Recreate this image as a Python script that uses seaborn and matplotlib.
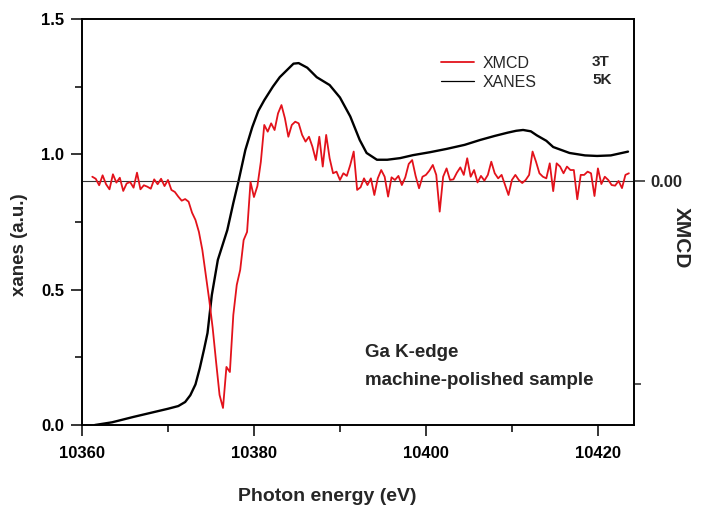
import matplotlib
matplotlib.use("Agg")
import matplotlib.pyplot as plt
import seaborn as sns
import numpy as np
import pandas as pd
from matplotlib.ticker import MultipleLocator, FixedLocator

# XANES (left axis)
xanes_energy = [10361.5, 10363.5, 10366.0, 10368.0, 10370.0, 10371.2, 10372.0, 10372.6,
                10373.2, 10373.7, 10374.2, 10374.6, 10375.1, 10375.8, 10376.9, 10377.6,
                10378.2, 10379.0, 10379.8, 10380.5, 10381.2, 10382.2, 10383.0, 10383.8,
                10384.6, 10385.2, 10386.2, 10387.3, 10388.8, 10390.0, 10391.2, 10392.3,
                10393.1, 10394.3, 10395.5, 10397.0, 10398.5, 10400.5, 10402.4, 10404.5,
                10406.3, 10408.0, 10409.5, 10410.5, 10411.3, 10412.2, 10412.9, 10414.0,
                10414.8, 10416.7, 10418.5, 10419.9, 10421.5, 10423.5]
xanes_value = [0.0, 0.01, 0.03, 0.045, 0.06, 0.07, 0.085, 0.11,
               0.15, 0.21, 0.28, 0.34, 0.48, 0.61, 0.72, 0.82,
               0.90, 1.016, 1.10, 1.16, 1.20, 1.25, 1.285, 1.31,
               1.335, 1.337, 1.32, 1.285, 1.256, 1.21, 1.14, 1.053,
               1.005, 0.98, 0.98, 0.986, 0.997, 1.008, 1.02, 1.035,
               1.053, 1.068, 1.08, 1.087, 1.09, 1.085, 1.07, 1.05,
               1.027, 1.005, 0.996, 0.994, 0.996, 1.01]

# XMCD (right axis), in units of 1e-3, on an even energy grid
xmcd_start, xmcd_stop = 10361.2, 10423.6
xmcd_1e3 = [0.21, 0.11, -0.21, 0.28, -0.16, -0.41, 0.33, -0.08, 0.16, -0.49,
            -0.12, -0.05, -0.33, 0.41, -0.41, -0.21, -0.28, -0.38, 0.08, -0.16,
            0.11, -0.25, 0.05, -0.44, -0.54, -0.77, -0.97, -0.89, -1.02, -1.56,
            -1.92,
            -2.51, -3.40, -4.63, -5.86, -7.24, -8.92, -10.54, -11.18, -9.16,
            -9.41, -6.60, -5.12, -4.38, -2.91, -2.51, -0.05, -0.79, -0.25, 0.94,
            2.76, 2.43, 2.84, 2.51, 3.33, 3.74, 3.09, 2.18, 2.76, 2.92,
            2.84, 2.27, 1.94, 2.18, 1.69, 1.03, 2.18, 0.71, 2.27, 1.12,
            0.38, 0.46, 0.05, 0.38, 0.25, 0.79, 1.45, -0.44, -0.31, 0.13,
            -0.20, 0.13, -0.69, 0.13, 0.54, 0.21, -0.77, 0.18, 0.05, 0.25,
            -0.20, 0.18, 0.84, 1.03, 0.25, -0.36, 0.21, 0.30, 0.51, 0.79,
            0.30, -1.51, 0.21, 0.62, 0.05, 0.08, 0.41, 0.67, 0.30, 1.12,
            0.21, 0.54, -0.07, 0.25, 0.02, 0.30, 0.95, 0.38, 0.13, 0.30,
            -0.20, -0.69, 0.05, 0.30,
            0.05, -0.10, 0.05, 0.30, 1.45, 0.95, 0.38, 0.21, 0.13, 0.87,
            -0.50, 0.87, 0.71, 0.38, 0.71, 0.54, 0.54, -0.90, 0.30, 0.30,
            0.46, 0.38, -0.74, 0.62, -0.15, 0.21, 0.05, -0.20, -0.23, 0.0,
            -0.35, 0.30, 0.38]

xanes = pd.DataFrame({'E': xanes_energy, 'xanes': xanes_value})
xmcd = pd.DataFrame({'E': np.linspace(xmcd_start, xmcd_stop, len(xmcd_1e3)),
                     'xmcd': np.array(xmcd_1e3) * 1e-3})

sns.set_style("ticks")
plt.rcParams['font.family'] = ['Liberation Sans', 'DejaVu Sans']

fig = plt.figure(figsize=(7.14, 5.05), dpi=100)
ax = fig.add_axes([0.1148, 0.1584, 0.7732, 0.804])
ax2 = ax.twinx()

red = '#e3121b'
ax2.axhline(0, color='#333333', lw=0.8)
sns.lineplot(data=xmcd, x='E', y='xmcd', ax=ax2, color=red, lw=1.3, legend=False)
sns.lineplot(data=xanes, x='E', y='xanes', ax=ax, color='black', lw=1.7, legend=False)

ax.set_xlim(10360, 10424.2)
ax.set_ylim(0, 1.5)
ax2.set_ylim(-0.01202, 0.00798)

ax.xaxis.set_major_locator(MultipleLocator(20))
ax.xaxis.set_minor_locator(MultipleLocator(10))
ax.yaxis.set_major_locator(MultipleLocator(0.5))
ax.yaxis.set_minor_locator(MultipleLocator(0.25))
ax.yaxis.set_major_formatter(matplotlib.ticker.FormatStrFormatter('%.1f'))
ax2.yaxis.set_major_locator(FixedLocator([0.0]))
ax2.yaxis.set_minor_locator(FixedLocator([-0.01]))
ax2.yaxis.set_major_formatter(matplotlib.ticker.FormatStrFormatter('%.2f'))

for a in (ax, ax2):
    for s in a.spines.values():
        s.set_linewidth(1.2)
        s.set_color('black')
ax.tick_params(which='both', direction='out', top=False, right=False, width=1.1, colors='black')
ax.tick_params(which='major', length=8, labelsize=12, pad=5)
ax.tick_params(which='minor', length=5)
ax.tick_params(axis='x', which='major', pad=7)
ax2.tick_params(which='both', direction='out', width=1.1)
ax2.tick_params(which='major', length=8, labelsize=12, pad=4)
ax2.tick_params(which='minor', length=5)
for lab in ax.get_xticklabels() + ax.get_yticklabels() + ax2.get_yticklabels():
    lab.set_fontweight('bold')

ax.set_xlabel('Photon energy (eV)', fontsize=14, fontweight='bold')
ax.set_ylabel('xanes (a.u.)', fontsize=13.5, fontweight='bold')
ax2.set_ylabel('XMCD', fontsize=15, fontweight='bold', rotation=270, va='center')
ax.xaxis.set_label_coords(0.444, -0.155)
ax.yaxis.set_label_coords(-0.098, 0.443)
ax2.yaxis.set_label_coords(1.085, 0.461)

# legend
handles = [plt.Line2D([], [], color=red, lw=1.3), plt.Line2D([], [], color='black', lw=0.9)]
ax2.legend(handles, ['XMCD', 'XANES'], loc='upper left', bbox_to_anchor=(0.65, 0.91),
           frameon=False, fontsize=11.5, handlelength=2.1, handletextpad=0.5,
           labelspacing=0.25, borderpad=0, borderaxespad=0)

ax.text(0.924, 0.894, '3T', transform=ax.transAxes, fontsize=11, fontweight='bold', va='center')
ax.text(0.924, 0.850, '5K', transform=ax.transAxes, fontsize=11, fontweight='bold', va='center')
ax.text(0.513, 0.178, 'Ga K-edge', transform=ax.transAxes, fontsize=13.5, fontweight='bold', va='center')
ax.text(0.513, 0.109, 'machine-polished sample', transform=ax.transAxes, fontsize=13.5,
        fontweight='bold', va='center')

fig.savefig('out.png', dpi=100)
